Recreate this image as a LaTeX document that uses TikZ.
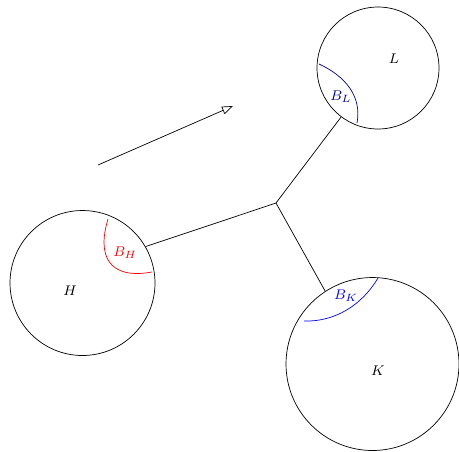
\documentclass[tikz,border=0pt]{standalone}
\usepackage{amsmath,amssymb}
\usepackage{xcolor}
\usepackage{tikz}
\usetikzlibrary{arrows.meta,calc}

\begin{document}
\begin{tikzpicture}[
    x=0.02cm, y=-0.02cm,
    region/.style={circle, draw, inner sep=0pt},
    lbl/.style={font=\footnotesize},
    link/.style={draw, thin},
    arrow/.style={-{Triangle[open,length=2.2mm,width=1.6mm]}, thin}
]
\useasboundingbox (0,0) rectangle (459,451);

\node[region, minimum size=2.9cm] (H) at (82.5,283) {};
\node[region, minimum size=2.44cm] (L) at (378,68) {};
\node[region, minimum size=3.46cm] (K) at (372.5,364) {};
\coordinate (J) at (276,203);

\node[lbl] (h) at (70,291) {$H$};
\node[lbl] (l) at (394,59) {$L$};
\node[lbl] (k) at (378,371) {$K$};

\draw[link] (J) -- (H.30);
\draw[link] (J) -- (L.233);
\draw[link] (J) -- (K.123);

% boundary arcs
\draw[red] (108,219) .. controls (97,255) and (108,280) .. (152,272);
\node[lbl, red] (bh) at (125,253) {$B_H$};
\draw[blue!60!black] (319,64) .. controls (345,76) and (362,96) .. (357,123);
\node[lbl, blue!60!black] (bl) at (341,97) {$B_L$};
\draw[blue] (304,321) .. controls (335,322) and (362,305) .. (378,278);
\node[lbl, blue] (bk) at (346,296) {$B_K$};

\coordinate (a0) at (98,165);
\coordinate (a1) at (233,106);
\draw[arrow] (a0) -- (a1);
\end{tikzpicture}
\end{document}
